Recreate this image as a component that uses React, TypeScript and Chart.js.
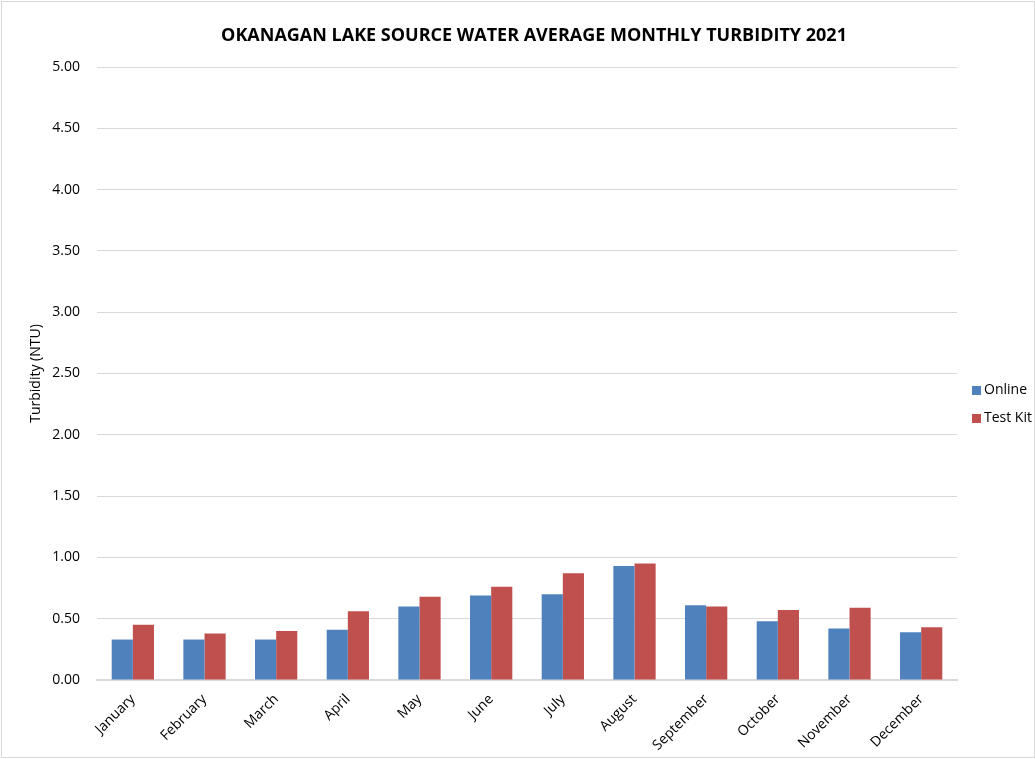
import React, { useEffect, useRef } from "react";
import { Chart, registerables } from "chart.js";

Chart.register(...registerables);

const months = ["January", "February", "March", "April", "May", "June", "July", "August", "September", "October", "November", "December"];
const onlineValues = [0.33, 0.33, 0.33, 0.41, 0.6, 0.69, 0.7, 0.93, 0.61, 0.48, 0.42, 0.39];
const testKitValues = [0.45, 0.38, 0.4, 0.56, 0.68, 0.76, 0.87, 0.95, 0.6, 0.57, 0.59, 0.43];
const seriesNames = ["Online", "Test Kit"];
const seriesColors = ["#4F81BD", "#C0504D"];
const chartTitle = "OKANAGAN LAKE SOURCE WATER AVERAGE MONTHLY TURBIDITY 2021";
const yTitle = "Turbidity (NTU)";

const FONT = "'Open Sans', 'Liberation Sans', sans-serif";

const decorPlugin = {
  id: "decor",
  afterDraw(chart: any) {
    const { ctx, chartArea } = chart;
    ctx.save();
    // title
    ctx.font = `bold 18px ${FONT}`;
    ctx.fillStyle = "#000";
    ctx.textAlign = "center";
    ctx.textBaseline = "middle";
    ctx.fillText(chartTitle, (chartArea.left + chartArea.right) / 2 + 7, 36);
    // legend
    const x = chartArea.right + 15;
    const midY = chart.height / 2 + 25;
    const gap = 28;
    ctx.font = `14px ${FONT}`;
    ctx.textAlign = "left";
    chart.data.datasets.forEach((ds: any, i: number) => {
      const y = midY + (i - (chart.data.datasets.length - 1) / 2) * gap;
      ctx.fillStyle = ds.backgroundColor;
      ctx.fillRect(x, y - 4.5, 9, 9);
      ctx.fillStyle = "#000";
      ctx.fillText(ds.label, x + 12, y);
    });
    ctx.restore();
  },
};

export default function App() {
  const ref = useRef<HTMLCanvasElement | null>(null);
  useEffect(() => {
    if (!ref.current) return;
    const chart = new Chart(ref.current, {
      type: "bar",
      data: {
        labels: months,
        datasets: [
          { label: seriesNames[0], data: onlineValues, backgroundColor: seriesColors[0], categoryPercentage: 0.59, barPercentage: 1.0 },
          { label: seriesNames[1], data: testKitValues, backgroundColor: seriesColors[1], categoryPercentage: 0.59, barPercentage: 1.0 },
        ],
      },
      plugins: [decorPlugin],
      options: {
        animation: false,
        responsive: true,
        maintainAspectRatio: false,
        layout: { padding: { left: 0, right: 78, top: 67, bottom: 0 } },
        plugins: {
          title: { display: false },
          legend: { display: false },
          tooltip: { enabled: false },
        },
        scales: {
          x: {
            grid: { display: false, drawTicks: false },
            border: { color: "#d9d9d9", width: 2 },
            afterFit: (scale: any) => {
              scale.height = 79;
            },
            ticks: {
              color: "#000",
              font: { family: FONT, size: 14 },
              maxRotation: 45,
              minRotation: 45,
              padding: 11,
            },
          },
          y: {
            min: 0,
            max: 5,
            afterFit: (scale: any) => {
              scale.width = 97;
            },
            ticks: {
              stepSize: 0.5,
              color: "#000",
              font: { family: FONT, size: 14 },
              padding: 17,
              callback: (v: any) => Number(v).toFixed(2),
            },
            grid: { color: "#d9d9d9", drawTicks: false },
            border: { display: false },
            title: {
              display: true,
              text: yTitle,
              color: "#000",
              font: { family: FONT, size: 14 },
              padding: { top: 28, bottom: 0 },
            },
          },
        },
      },
    });
    return () => chart.destroy();
  }, []);
  return (
    <div style={{ position: "fixed", left: 0, top: 0, width: 1035, height: 759, background: "#fff" }}>
      <div style={{ position: "absolute", left: 1, top: 1, width: 1032, height: 755, border: "1px solid #d9d9d9" }} />
      <div style={{ position: "absolute", left: 0, top: 0, width: 1035, height: 759 }}>
        <canvas ref={ref} />
      </div>
    </div>
  );
}
